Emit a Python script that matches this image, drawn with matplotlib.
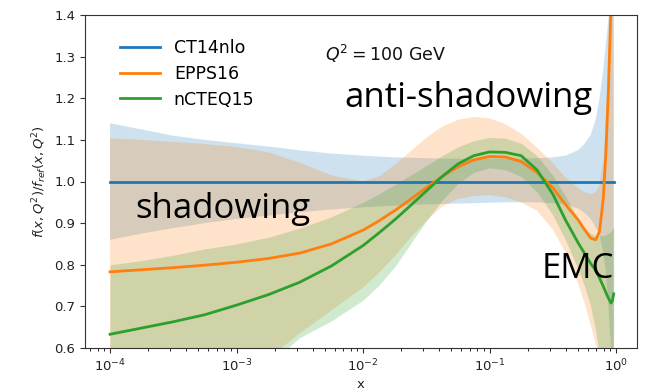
import matplotlib
matplotlib.use("Agg")
import matplotlib.pyplot as plt

# Bjorken-x sampling points
x = [1.00e-4, 1.78e-4, 3.16e-4, 5.62e-4, 1.00e-3, 1.78e-3, 3.16e-3, 5.62e-3,
     1.00e-2, 1.33e-2, 1.78e-2, 2.37e-2, 3.16e-2, 4.22e-2, 5.62e-2, 7.50e-2,
     0.100, 0.133, 0.178, 0.237, 0.316, 0.398, 0.501, 0.562, 0.631, 0.692,
     0.741, 0.794, 0.832, 0.871, 0.912, 0.933, 0.959]

# CT14nlo (reference proton PDF) ratio and uncertainty band
ct14_mid = [1.0] * len(x)
ct14_hi = [1.140, 1.125, 1.110, 1.100, 1.092, 1.084, 1.075, 1.067, 1.062, 1.060,
           1.058, 1.057, 1.056, 1.055, 1.055, 1.055, 1.055, 1.055, 1.055, 1.056,
           1.058, 1.062, 1.075, 1.090, 1.112, 1.150, 1.200, 1.270, 1.330, 1.390,
           1.450, 1.500, 1.550]
ct14_lo = [0.860, 0.875, 0.888, 0.900, 0.910, 0.918, 0.926, 0.933, 0.938, 0.940,
           0.942, 0.944, 0.945, 0.946, 0.947, 0.948, 0.949, 0.950, 0.950, 0.950,
           0.948, 0.945, 0.935, 0.925, 0.910, 0.890, 0.870, 0.830, 0.780, 0.700,
           0.600, 0.500, 0.400]

# EPPS16 nuclear modification and band
epps_mid = [0.783, 0.788, 0.793, 0.799, 0.806, 0.815, 0.828, 0.850, 0.883, 0.905,
            0.930, 0.957, 0.985, 1.012, 1.035, 1.052, 1.060, 1.059, 1.048, 1.022,
            0.985, 0.945, 0.908, 0.885, 0.864, 0.860, 0.880, 0.960, 1.070, 1.220,
            1.420, 1.550, 1.700]
epps_hi = [1.104, 1.100, 1.095, 1.090, 1.083, 1.070, 1.045, 1.015, 1.000, 1.012,
           1.040, 1.072, 1.105, 1.132, 1.148, 1.155, 1.152, 1.138, 1.115, 1.082,
           1.045, 1.010, 0.985, 0.975, 0.970, 0.975, 0.990, 1.050, 1.150, 1.300,
           1.500, 1.600, 1.750]
epps_lo = [0.480, 0.490, 0.500, 0.515, 0.535, 0.575, 0.635, 0.690, 0.745, 0.780,
           0.820, 0.865, 0.905, 0.940, 0.958, 0.965, 0.967, 0.962, 0.950, 0.930,
           0.885, 0.830, 0.755, 0.710, 0.655, 0.610, 0.590, 0.575, 0.565, 0.560,
           0.550, 0.550, 0.550]

# nCTEQ15 nuclear modification and band
ncteq_mid = [0.633, 0.648, 0.663, 0.680, 0.703, 0.728, 0.758, 0.797, 0.846, 0.876,
             0.908, 0.942, 0.977, 1.012, 1.042, 1.062, 1.071, 1.070, 1.062, 1.028,
             0.970, 0.908, 0.853, 0.828, 0.803, 0.786, 0.768, 0.748, 0.733, 0.720,
             0.708, 0.712, 0.730]
ncteq_hi = [0.800, 0.810, 0.823, 0.838, 0.850, 0.866, 0.888, 0.915, 0.950, 0.970,
            0.992, 1.015, 1.038, 1.062, 1.083, 1.098, 1.106, 1.104, 1.092, 1.062,
            1.015, 0.965, 0.910, 0.890, 0.875, 0.870, 0.870, 0.870, 0.872, 0.876,
            0.880, 0.885, 0.890]
ncteq_lo = [0.400, 0.420, 0.440, 0.470, 0.510, 0.560, 0.625, 0.665, 0.715, 0.750,
            0.795, 0.850, 0.905, 0.955, 0.995, 1.022, 1.033, 1.028, 1.012, 0.975,
            0.920, 0.860, 0.790, 0.750, 0.700, 0.640, 0.580, 0.520, 0.480, 0.450,
            0.420, 0.410, 0.400]

series = [
    ("CT14nlo", ct14_mid, ct14_lo, ct14_hi, "#1f77b4"),
    ("EPPS16", epps_mid, epps_lo, epps_hi, "#ff7f0e"),
    ("nCTEQ15", ncteq_mid, ncteq_lo, ncteq_hi, "#2ca02c"),
]

W, H = 651, 392
fig = plt.figure(figsize=(W / 100, H / 100), dpi=100)
ax = fig.add_axes([85 / W, 44 / H, (637 - 85) / W, (348 - 15) / H])

for name, mid, lo, hi, col in series:
    ax.fill_between(x, lo, hi, color=col, alpha=0.22, linewidth=0)
for name, mid, lo, hi, col in series:
    ax.plot(x, mid, color=col, lw=2.0, label=name, solid_joinstyle="round")

ax.set_xscale("log")
ax.set_xlim(10 ** -4.198, 10 ** 0.166)
ax.set_ylim(0.6, 1.4)
ax.set_yticks([0.6, 0.7, 0.8, 0.9, 1.0, 1.1, 1.2, 1.3, 1.4])
ax.tick_params(labelsize=9.5, colors="#333333", labelcolor="#222222")
for s in ax.spines.values():
    s.set_color("#333333")

ax.set_xlabel("x", fontsize=9.5, color="#222222", labelpad=3)
ax.set_ylabel(r"$f(x,Q^2)/f_{ref}(x,Q^2)$", fontsize=9.5, color="#222222",
              labelpad=4)

ax.legend(loc="upper left", bbox_to_anchor=(0.035, 0.975), frameon=False,
          fontsize=12.5, handlelength=2.3, handletextpad=0.8, labelspacing=0.45)

fig.text(325 / W, 1 - 61 / H, r"$Q^2 = 100$ GeV", fontsize=12.5, va="baseline",
         color="#111111")

big = dict(fontsize=25, family=["Open Sans", "DejaVu Sans"], color="black",
           va="baseline", ha="left")
fig.text(344 / W, 1 - 107 / H, "anti-shadowing", **big)
fig.text(135 / W, 1 - 218 / H, "shadowing", **big)
fig.text(542 / W, 1 - 278 / H, "EMC", **big)

fig.savefig("out.png", dpi=100)
